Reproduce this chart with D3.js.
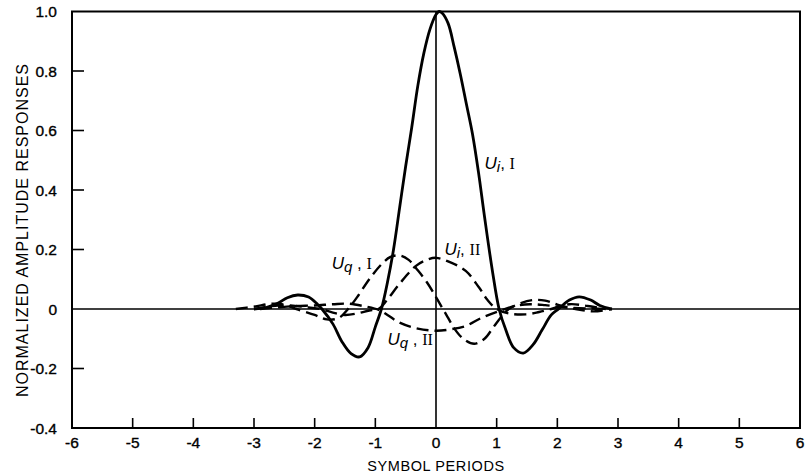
<!DOCTYPE html>
<html>
<head>
<meta charset="utf-8">
<script src="https://cdn.jsdelivr.net/npm/d3@7"></script>
<style>
  html, body { margin: 0; padding: 0; background: #fff; }
  svg { display: block; }
</style>
</head>
<body>
<svg id="chart" width="807" height="476"></svg>
<script>
// ---- Data ----
const xTicks = [-6, -5, -4, -3, -2, -1, 0, 1, 2, 3, 4, 5, 6];
const yTicks = [-0.4, -0.2, 0, 0.2, 0.4, 0.6, 0.8, 1.0];
const yTickLabels = ["-0.4", "-0.2", "0", "0.2", "0.4", "0.6", "0.8", "1.0"];

// U_i,I  (solid, main pulse)
const uiI = [
  [-3.0, 0], [-2.8, 0.005], [-2.6, 0.02], [-2.45, 0.038], [-2.28, 0.047], [-2.1, 0.04],
  [-1.95, 0.015], [-1.88, 0], [-1.7, -0.05], [-1.55, -0.11], [-1.4, -0.15], [-1.26, -0.161],
  [-1.12, -0.13], [-1.0, -0.06], [-0.9, 0], [-0.8, 0.09], [-0.7, 0.2], [-0.6, 0.34],
  [-0.5, 0.48], [-0.4, 0.61], [-0.3, 0.75], [-0.2, 0.86], [-0.1, 0.94], [0.0, 0.99],
  [0.05, 1.0], [0.1, 0.995], [0.2, 0.96], [0.3, 0.88], [0.4, 0.79], [0.5, 0.69],
  [0.6, 0.59], [0.7, 0.46], [0.8, 0.31], [0.93, 0.128], [1.04, 0], [1.15, -0.07],
  [1.28, -0.13], [1.44, -0.148], [1.6, -0.12], [1.75, -0.07], [1.9, -0.02], [2.02, 0],
  [2.2, 0.03], [2.36, 0.041], [2.55, 0.03], [2.7, 0.012], [2.9, 0]
];

// U_q,I  (dashed, quadrature crosstalk)
const uqI = [
  [-3.3, 0], [-3.0, 0.008], [-2.7, 0.018], [-2.5, 0.015], [-2.3, 0.0], [-2.0, -0.02],
  [-1.8, -0.035], [-1.6, -0.03], [-1.45, 0], [-1.3, 0.04], [-1.1, 0.1], [-0.9, 0.15],
  [-0.75, 0.175], [-0.6, 0.18], [-0.45, 0.165], [-0.3, 0.13], [-0.15, 0.09], [0.0, 0.04],
  [0.1, 0.005], [0.2, -0.03], [0.3, -0.065], [0.45, -0.1], [0.63, -0.117], [0.8, -0.1],
  [0.95, -0.06], [1.1, -0.02], [1.2, 0], [1.4, 0.02], [1.6, 0.03], [1.8, 0.028],
  [2.0, 0.015], [2.3, 0], [2.6, -0.008], [2.9, 0]
];

// U_i,II (dashed)
const uiII = [
  [-3.0, 0], [-2.7, 0.01], [-2.4, 0.012], [-2.1, 0.005], [-1.9, 0], [-1.7, -0.012],
  [-1.5, -0.02], [-1.3, -0.015], [-1.1, -0.005], [-0.95, 0], [-0.82, 0.027], [-0.6, 0.085],
  [-0.33, 0.145], [-0.15, 0.165], [0.0, 0.172], [0.2, 0.16], [0.49, 0.128], [0.71, 0.072],
  [0.85, 0.03], [1.0, 0], [1.2, -0.015], [1.48, -0.018], [1.7, -0.01], [1.9, 0],
  [2.2, 0.016], [2.5, 0.01], [2.8, 0]
];

// U_q,II (dashed)
const uqII = [
  [-2.9, 0], [-2.6, 0.006], [-2.3, 0.01], [-2.0, 0.012], [-1.7, 0.016], [-1.45, 0.018],
  [-1.2, 0.01], [-0.93, -0.004], [-0.8, -0.02], [-0.6, -0.046], [-0.3, -0.066], [0.0, -0.073],
  [0.25, -0.068], [0.49, -0.057], [0.75, -0.03], [1.04, -0.007], [1.3, 0.01], [1.55, 0.016],
  [1.8, 0.013], [2.1, 0.006], [2.5, 0.002], [2.9, 0]
];

const labels = [
  { sub: "i", num: "I",  x: 0.8,   y: 0.47 },
  { sub: "i", num: "II", x: 0.14,  y: 0.18 },
  { sub: "q", num: "I",  x: -1.72, y: 0.135 },
  { sub: "q", num: "II", x: -0.8,  y: -0.12 }
];

// ---- Drawing ----
const svg = d3.select("#chart");
const x = d3.scaleLinear().domain([-6, 6]).range([72, 800]);
const y = d3.scaleLinear().domain([-0.4, 1.0]).range([428, 11.5]);

const font = "'Liberation Sans', Arial, Helvetica, sans-serif";

// zero line and vertical axis at x=0
svg.append("line").attr("x1", x(-6)).attr("x2", x(6)).attr("y1", y(0)).attr("y2", y(0))
  .attr("stroke", "#000").attr("stroke-width", 1.6);
svg.append("line").attr("x1", x(0)).attr("x2", x(0)).attr("y1", y(1.0)).attr("y2", y(-0.4))
  .attr("stroke", "#000").attr("stroke-width", 1.6);

// ticks (inward)
const innerX = xTicks.filter(d => d !== 0 && Math.abs(d) !== 6);
svg.append("g").selectAll("line").data(innerX).join("line")
  .attr("x1", d => x(d)).attr("x2", d => x(d))
  .attr("y1", y(-0.4)).attr("y2", y(-0.4) - 10)
  .attr("stroke", "#000").attr("stroke-width", 1.6);
const innerY = yTicks.filter(d => d !== 0 && d !== -0.4 && d !== 1.0);
svg.append("g").selectAll("line").data(innerY).join("line")
  .attr("x1", x(-6)).attr("x2", x(-6) + 12)
  .attr("y1", d => y(d)).attr("y2", d => y(d))
  .attr("stroke", "#000").attr("stroke-width", 1.6);

// frame
svg.append("rect").attr("x", x(-6)).attr("y", y(1.0))
  .attr("width", x(6) - x(-6)).attr("height", y(-0.4) - y(1.0))
  .attr("fill", "none").attr("stroke", "#000").attr("stroke-width", 2);

// tick labels
svg.append("g").selectAll("text").data(xTicks).join("text")
  .attr("x", d => x(d)).attr("y", y(-0.4) + 20)
  .attr("text-anchor", "middle")
  .attr("font-family", font).attr("font-size", 15.5)
  .attr("stroke", "#000").attr("stroke-width", 0.35)
  .text(d => d);
svg.append("g").selectAll("text").data(yTicks).join("text")
  .attr("x", 57).attr("y", d => y(d) + 5.5)
  .attr("text-anchor", "end")
  .attr("font-family", font).attr("font-size", 15.5)
  .attr("stroke", "#000").attr("stroke-width", 0.35)
  .text((d, i) => yTickLabels[i]);

// axis titles
svg.append("text").attr("x", x(0)).attr("y", 471)
  .attr("text-anchor", "middle").attr("font-family", font).attr("font-size", 14.5)
  .attr("letter-spacing", 0.6)
  .text("SYMBOL PERIODS");
svg.append("text").attr("transform", "translate(28," + 230 + ") rotate(-90)")
  .attr("text-anchor", "middle").attr("font-family", font).attr("font-size", 16)
  .attr("letter-spacing", 1)
  .text("NORMALIZED AMPLITUDE RESPONSES");

// curves
const line = d3.line().x(d => x(d[0])).y(d => y(d[1])).curve(d3.curveCatmullRom.alpha(0.5));
svg.append("path").datum(uiII).attr("d", line).attr("fill", "none")
  .attr("stroke", "#000").attr("stroke-width", 2.4).attr("stroke-dasharray", "12,6");
svg.append("path").datum(uqII).attr("d", line).attr("fill", "none")
  .attr("stroke", "#000").attr("stroke-width", 2.4).attr("stroke-dasharray", "12,6");
svg.append("path").datum(uqI).attr("d", line).attr("fill", "none")
  .attr("stroke", "#000").attr("stroke-width", 2.4).attr("stroke-dasharray", "12,6");
svg.append("path").datum(uiI).attr("d", line).attr("fill", "none")
  .attr("stroke", "#000").attr("stroke-width", 2.8);

// curve labels
const lab = svg.append("g").selectAll("text").data(labels).join("text")
  .attr("x", d => x(d[ "x" ])).attr("y", d => y(d[ "y" ]))
  .attr("font-size", 17);
lab.append("tspan").attr("font-family", font).attr("font-style", "italic").text("U");
lab.append("tspan").attr("font-family", font).attr("font-style", "italic")
  .attr("font-size", 15).attr("dy", 3).text(d => d.sub);
lab.append("tspan").attr("font-family", font).attr("dy", -3).text(d => d.sub === "q" ? " , " : ", ");
lab.append("tspan").attr("font-family", "'Liberation Serif', 'Times New Roman', serif")
  .attr("font-size", 16).text(d => d.num);
</script>
</body>
</html>
